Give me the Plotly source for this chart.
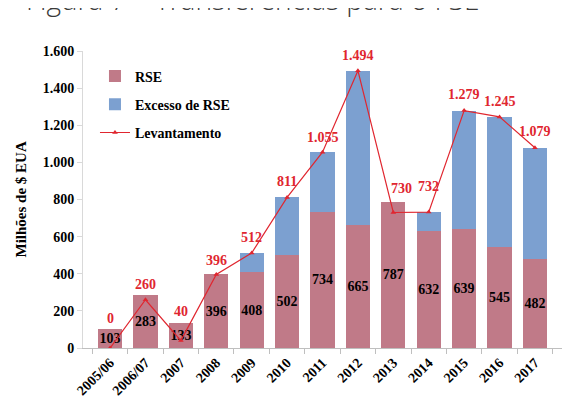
import plotly.graph_objects as go

categories = ["2005/06", "2006/07", "2007", "2008", "2009", "2010", "2011",
              "2012", "2013", "2014", "2015", "2016", "2017"]
rse = [103, 283, 133, 396, 408, 502, 734, 665, 787, 632, 639, 545, 482]
excesso = [0, 0, 0, 0, 104, 309, 321, 829, 0, 100, 640, 700, 597]
levantamento = [0, 260, 40, 396, 512, 811, 1055, 1494, 730, 732, 1279, 1245, 1079]
y_ticks = [0, 200, 400, 600, 800, 1000, 1200, 1400, 1600]

# label offsets (style only)
lab_yshift = [28, 14, 28, 12, 14, 14, 13, 14, 22, 24, 15, 14, 15]
lab_xshift = [0, 0, 0, 0, 0, 0, 0, 0, 8, 0, 0, 0, 0]

SERIF = "Liberation Serif"
RED = "#E0262F"

fig = go.Figure()
fig.add_trace(go.Bar(
    x=categories, y=rse, name="RSE", marker_color="#C07A88",
    marker_line_width=0, text=rse, textposition="inside", textangle=0,
    insidetextanchor="middle", constraintext="none",
    textfont=dict(family=SERIF, size=14, color="black", weight="bold"),
    legendgroup="a", hoverinfo="skip"))
fig.add_trace(go.Bar(
    x=categories, y=excesso, name="Excesso de RSE", marker_color="#7CA0D0",
    marker_line_width=0, legendgroup="b", hoverinfo="skip"))
fig.add_trace(go.Scatter(
    x=categories, y=levantamento, name="Levantamento", mode="lines+markers",
    line=dict(color=RED, width=1.2),
    marker=dict(symbol="triangle-up", size=5, color=RED),
    legendgroup="c", hoverinfo="skip"))

for i, v in enumerate(levantamento):
    fig.add_annotation(
        x=i, y=v, xref="x", yref="y", text=f"{v:,}".replace(",", "."),
        showarrow=False, yanchor="bottom", yshift=lab_yshift[i] - 8,
        xshift=lab_xshift[i],
        font=dict(family=SERIF, size=14, color=RED, weight="bold"))

fig.add_annotation(
    x=(24 - 83) / 479, xref="paper", y=1.104, yref="paper",
    xanchor="left", yanchor="bottom",
    text="Figura 7 – Transferências para o FSE", showarrow=False,
    font=dict(family="Open Sans", size=28, color="#3A3A3A", weight=300))

fig.add_annotation(
    x=(20 - 83) / 479, xref="paper", y=0.5, yref="paper",
    xanchor="center", yanchor="middle", textangle=-90,
    text="Milhões de $ EUA", showarrow=False,
    font=dict(family=SERIF, size=15, color="black", weight="bold"))

fig.update_layout(
    width=573, height=406, barmode="stack", bargap=0.32,
    separators=",.",
    margin=dict(l=75, r=19, t=43, b=66),
    plot_bgcolor="white", paper_bgcolor="white",
    font=dict(family=SERIF, color="black"),
    legend=dict(x=0.025, y=0.968, xanchor="left", yanchor="top",
                traceorder="grouped", tracegroupgap=7,
                bgcolor="rgba(0,0,0,0)",
                font=dict(family=SERIF, size=14, color="black", weight="bold")),
    showlegend=True,
)
fig.update_xaxes(
    type="category", tickangle=-45, showline=True, linecolor="#BFBFBF",
    linewidth=1, ticks="outside", tickson="boundaries", ticklen=5,
    tickcolor="#BFBFBF", showgrid=False, automargin=False,
    tickfont=dict(family=SERIF, size=14, color="black", weight="bold"))
fig.update_yaxes(
    range=[0, 1600], tickvals=y_ticks, tickformat=",d", showline=True,
    linecolor="#D9D9D9", linewidth=1, ticks="outside", ticklen=5,
    tickcolor="#D9D9D9", showgrid=False, zeroline=False, automargin=False,
    tickfont=dict(family=SERIF, size=14, color="black", weight="bold"))

fig.write_html("out.html")
